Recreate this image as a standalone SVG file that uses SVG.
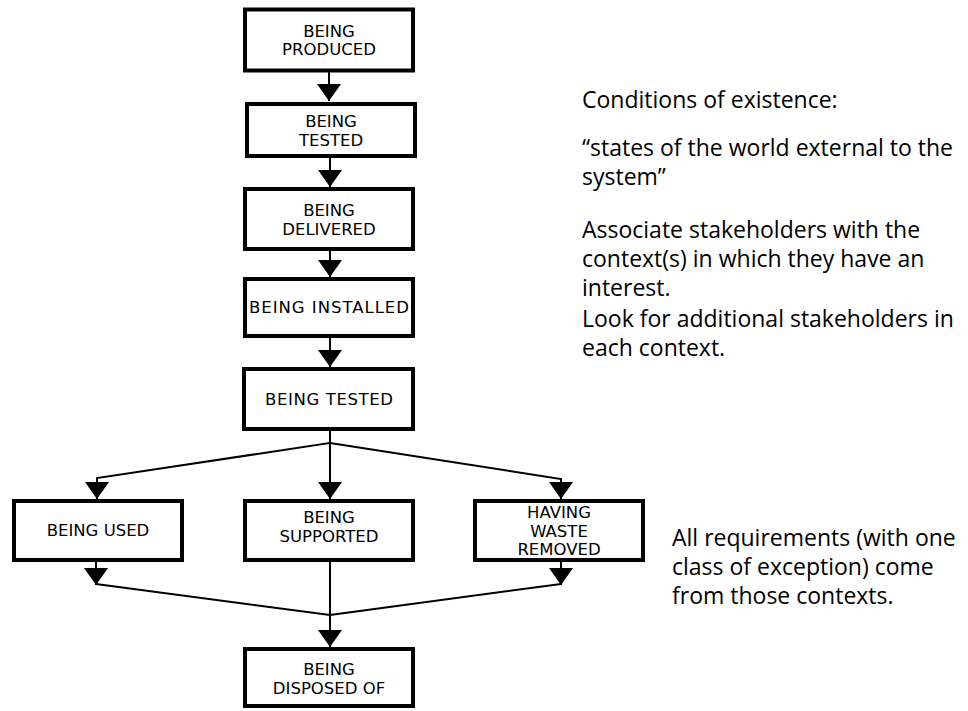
<svg xmlns="http://www.w3.org/2000/svg" width="968" height="711" viewBox="0 0 968 711">
<style>
.box{fill:#fff;stroke:#000;stroke-width:4}
.bt{font-family:"DejaVu Sans",Verdana,sans-serif;font-size:16.5px;fill:#000;text-anchor:middle}
.con{fill:none;stroke:#000;stroke-width:2}
.note{font-family:"Open Sans","Noto Sans",sans-serif;font-size:23px;fill:#000}
</style>
<defs>
<marker id="ah" markerUnits="userSpaceOnUse" markerWidth="17" markerHeight="24" refX="17" refY="12" orient="auto" viewBox="0 0 17 24">
<path d="M0,0 L17,12 L0,24 Z" fill="#000"/>
</marker>
</defs>
<rect width="968" height="711" fill="#fff"/>
<g id="connectors">
<path class="con" d="M329,72 V101" marker-end="url(#ah)"/>
<path class="con" d="M330,158 V187" marker-end="url(#ah)"/>
<path class="con" d="M330,251 V277" marker-end="url(#ah)"/>
<path class="con" d="M330,338 V367" marker-end="url(#ah)"/>
<path class="con" d="M330,431 V443 L97,478 V499" marker-end="url(#ah)"/>
<path class="con" d="M330,443 V499" marker-end="url(#ah)"/>
<path class="con" d="M330,443 L561,479 V499" marker-end="url(#ah)"/>
<path class="con" d="M96,562 V585" marker-end="url(#ah)"/>
<path class="con" d="M96,584 L330,615"/>
<path class="con" d="M561,562 V585" marker-end="url(#ah)"/>
<path class="con" d="M561,584 L330,615"/>
<path class="con" d="M330,562 V647" marker-end="url(#ah)"/>
</g>
<g id="being-produced">
<rect class="box" x="245" y="9.5" width="168" height="61"/>
<text class="bt" x="329" y="36.5">BEING</text>
<text class="bt" x="329" y="55">PRODUCED</text>
</g>
<g id="being-tested-1">
<rect class="box" x="247" y="104" width="168" height="52"/>
<text class="bt" x="331" y="127">BEING</text>
<text class="bt" x="331" y="145.5">TESTED</text>
</g>
<g id="being-delivered">
<rect class="box" x="245" y="189" width="168" height="60"/>
<text class="bt" x="329" y="216">BEING</text>
<text class="bt" x="329" y="234.5">DELIVERED</text>
</g>
<g id="being-installed">
<rect class="box" x="245" y="279" width="168" height="57"/>
<text class="bt" x="329" y="313" textLength="160" lengthAdjust="spacing">BEING INSTALLED</text>
</g>
<g id="being-tested-2">
<rect class="box" x="244" y="369" width="169" height="60"/>
<text class="bt" x="329" y="405" textLength="128" lengthAdjust="spacing">BEING TESTED</text>
</g>
<g id="being-used">
<rect class="box" x="14" y="501" width="168" height="59"/>
<text class="bt" x="98" y="536">BEING USED</text>
</g>
<g id="being-supported">
<rect class="box" x="245" y="501" width="168" height="59"/>
<text class="bt" x="329" y="523">BEING</text>
<text class="bt" x="329" y="541.5">SUPPORTED</text>
</g>
<g id="having-waste-removed">
<rect class="box" x="475" y="501" width="168" height="59"/>
<text class="bt" x="559" y="518">HAVING</text>
<text class="bt" x="559" y="536.5">WASTE</text>
<text class="bt" x="559" y="555">REMOVED</text>
</g>
<g id="being-disposed-of">
<rect class="box" x="245" y="649" width="168" height="57"/>
<text class="bt" x="329" y="675">BEING</text>
<text class="bt" x="329" y="693.5">DISPOSED OF</text>
</g>
<g id="notes">
<text class="note" x="582" y="108">Conditions of existence:</text>
<text class="note" x="582" y="156">“states of the world external to the</text>
<text class="note" x="582" y="185">system”</text>
<text class="note" x="582" y="238">Associate stakeholders with the</text>
<text class="note" x="582" y="267">context(s) in which they have an</text>
<text class="note" x="582" y="296">interest.</text>
<text class="note" x="582" y="327">Look for additional stakeholders in</text>
<text class="note" x="582" y="356">each context.</text>
<text class="note" x="672" y="546">All requirements (with one</text>
<text class="note" x="672" y="575">class of exception) come</text>
<text class="note" x="672" y="604">from those contexts.</text>
</g>
</svg>
